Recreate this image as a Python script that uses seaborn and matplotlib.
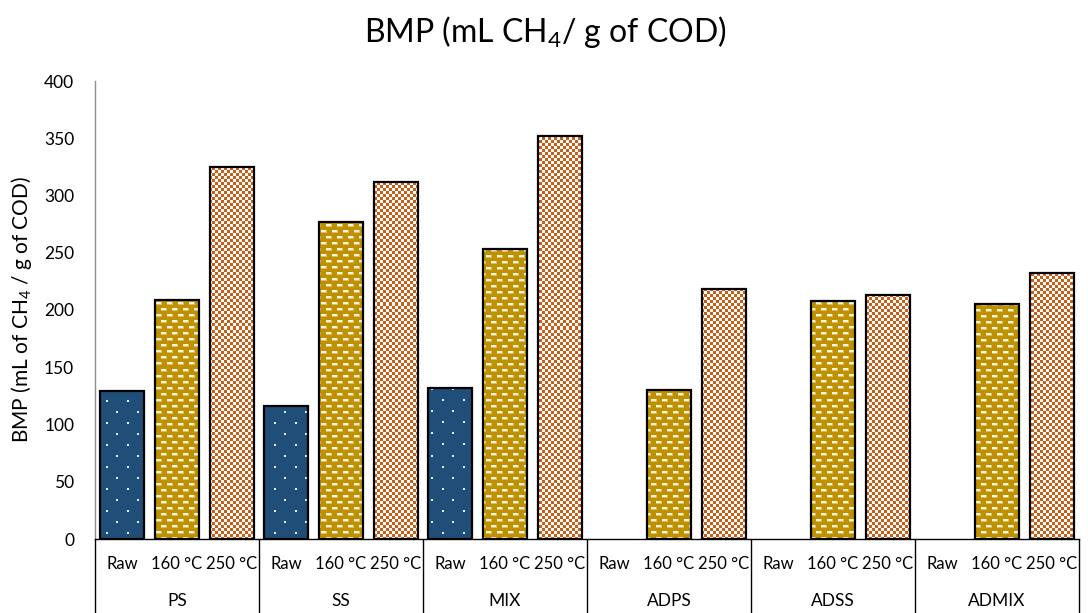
import numpy as np
import pandas as pd
import matplotlib
matplotlib.use("Agg")
import matplotlib.pyplot as plt
from matplotlib.patches import Rectangle
import seaborn as sns

# ---- data -------------------------------------------------------------
groups = ["PS", "SS", "MIX", "ADPS", "ADSS", "ADMIX"]
treatments = ["Raw", "160 °C", "250 °C"]
raw_vals = [129, 116, 132, None, None, None]
t160_vals = [209, 277, 253, 130, 208, 205]
t250_vals = [325, 312, 352, 218, 213, 232]

title_text = "BMP (mL CH$_4$/ g of COD)"
ylabel_text = "BMP (mL of CH$_4$ / g of COD)"
yticks = [0, 50, 100, 150, 200, 250, 300, 350, 400]

base_colors = {"Raw": "#1F4E79", "160 °C": "#BF9000", "250 °C": "#FFFFFF"}

# ---- table for seaborn -------------------------------------------------
slots, rows = [], []
for gi, g in enumerate(groups):
    for t, series in zip(treatments, [raw_vals, t160_vals, t250_vals]):
        slot = f"{g}|{t}"
        slots.append(slot)
        v = series[gi]
        if v is not None:
            rows.append({"slot": slot, "treatment": t, "value": v})
df = pd.DataFrame(rows)

# ---- style ---------------------------------------------------------------
sns.set_theme(style="white")
plt.rcParams["font.family"] = ["Lato", "DejaVu Sans"]
plt.rcParams["mathtext.fontset"] = "custom"
plt.rcParams["mathtext.rm"] = "Lato"
plt.rcParams["mathtext.it"] = "Lato:italic"
plt.rcParams["mathtext.default"] = "rm"

W, H = 1088, 613
fig = plt.figure(figsize=(W / 100, H / 100), dpi=100)
ax_l, ax_r, ax_t, ax_b = 95, 1079, 81, 539
ax = fig.add_axes([ax_l / W, (H - ax_b) / H, (ax_r - ax_l) / W, (ax_b - ax_t) / H])

sns.barplot(data=df, x="slot", y="value", hue="treatment", order=slots,
            hue_order=treatments, palette=base_colors, dodge=False,
            width=0.8, saturation=1, legend=False, ax=ax, errorbar=None)

ax.set_xlim(-0.5, len(slots) - 0.5)
ax.set_ylim(0, 400)
ax.set_yticks(yticks)
ax.set_xlabel("")
ax.set_ylabel("")

# ---- fill textures -----------------------------------------------------------
pw, ph = ax_r - ax_l, ax_b - ax_t
ii, jj = np.mgrid[0:ph, 0:pw]


def texture_dots():
    img = np.zeros((ph, pw, 4))
    row = ii // 11
    shift = (row % 2) * 10
    yi, xj = ii % 11, (jj + shift) % 21
    core = (yi < 2) & (xj < 2)
    img[core] = [1, 1, 1, 0.9]
    return img


def texture_dashes():
    img = np.zeros((ph, pw, 4))
    row = ii // 6
    shift = (row % 2) * 5
    yi, xj = ii % 6, (jj + shift) % 11
    halo = (yi < 3) & (xj < 6)
    img[halo] = [1.0, 0.96, 0.85, 0.45]
    core = (yi < 2) & (xj < 5)
    img[core] = [1.0, 0.99, 0.94, 0.95]
    return img


def texture_checker():
    img = np.zeros((ph, pw, 4))
    m = ((ii // 3 + jj // 3) % 2) == 0
    img[m] = list(matplotlib.colors.to_rgb("#C95F17")) + [1.0]
    return img


textures = {"Raw": texture_dots(), "160 °C": texture_dashes(), "250 °C": texture_checker()}

for t, cont in zip(treatments, ax.containers):
    tex = textures[t]
    for bar in cont:
        if not np.isfinite(bar.get_height()) or bar.get_height() == 0:
            continue
        bar.set_edgecolor("none")
        bar.set_linewidth(0)
        im = ax.imshow(tex, extent=(-0.5, len(slots) - 0.5, 0, 400), origin="upper",
                       aspect="auto", interpolation="nearest", zorder=bar.get_zorder() + 0.1)
        im.set_clip_path(bar)
        ax.add_patch(Rectangle(bar.get_xy(), bar.get_width(), bar.get_height(),
                               fill=False, edgecolor="black", linewidth=1.6,
                               zorder=bar.get_zorder() + 0.2))

ax.set_xlim(-0.5, len(slots) - 0.5)
ax.set_ylim(0, 400)

# ---- axes decoration ---------------------------------------------------------
for s in ["top", "right"]:
    ax.spines[s].set_visible(False)
ax.spines["left"].set_color("#8C8C8C")
ax.spines["left"].set_linewidth(1.0)
ax.spines["bottom"].set_color("black")
ax.spines["bottom"].set_linewidth(1.0)

ax.set_xticks(range(len(slots)))
ax.set_xticklabels([s.split("|")[1] for s in slots])
ax.tick_params(axis="x", length=0, pad=12, labelsize=12, colors="black")
ax.tick_params(axis="y", length=0, pad=15, labelsize=12.5, colors="black")

sep_bottom = -(H - ax_b) / ph
for k in range(len(groups) + 1):
    xs = 3 * k - 0.5
    ax.plot([xs, xs], [0, sep_bottom], color="black", linewidth=1.0,
            transform=ax.get_xaxis_transform(), clip_on=False)

for gi, g in enumerate(groups):
    ax.text(3 * gi + 1, -62 / ph, g, transform=ax.get_xaxis_transform(),
            ha="center", va="center", fontsize=12.5, color="black")

fig.text(545 / W, 1 - 32 / H, title_text, ha="center", va="center", fontsize=23, color="black")
fig.text(22 / W, 1 - 309 / H, ylabel_text, rotation=90, ha="center", va="center",
         fontsize=15, color="black")

fig.savefig("out.png", dpi=100)
